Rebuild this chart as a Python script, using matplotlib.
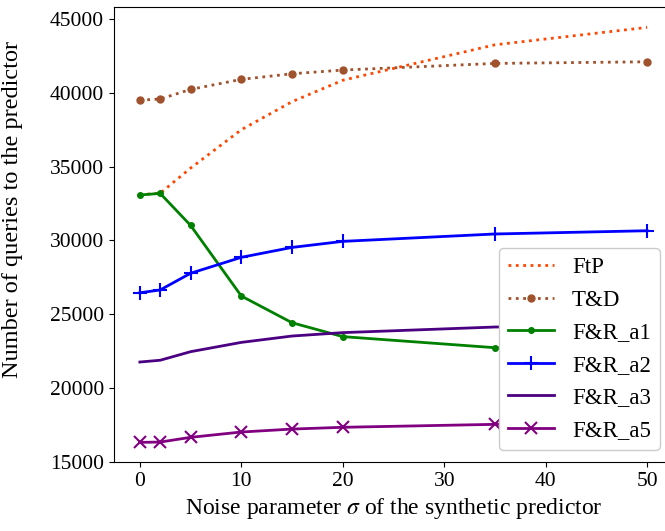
import numpy as np
import matplotlib
matplotlib.use('Agg')
import matplotlib.pyplot as plt

plt.rcParams['font.family'] = ['Liberation Serif', 'DejaVu Serif']
plt.rcParams['mathtext.fontset'] = 'stix'

# noise levels sigma
sigma = [0, 2, 5, 10, 15, 20, 35, 50]

# number of queries for each method
ftp = [33100, 33200, 34900, 37500, 39400, 40850, 43250, 44430]
td = [39500, 39580, 40230, 40910, 41290, 41540, 41990, 42100]
fr_a1 = [33080, 33190, 31020, 26240, 24430, 23490, 22740, 22300]
fr_a2 = [26460, 26650, 27780, 28860, 29530, 29940, 30440, 30660]
fr_a3 = [21770, 21890, 22470, 23100, 23530, 23760, 24140, 24300]
fr_a5 = [16330, 16350, 16670, 17030, 17230, 17350, 17550, 17650]

fig = plt.figure(figsize=(6.65, 5.31), dpi=100)
ax = fig.add_axes([113.5 / 665, 69 / 531, 560 / 665, 455 / 531])

ax.plot(sigma, ftp, ':', color='#ff4500', lw=2, label='FtP')
ax.plot(sigma, td, ':', color='#a0522d', lw=2, marker='o', ms=5, label='T&D')
ax.plot(sigma, fr_a1, '-', color='green', lw=2, marker='o', ms=4, label='F&R_a1')
ax.plot(sigma, fr_a2, '-', color='blue', lw=2, marker='+', ms=10, mew=1.5, label='F&R_a2')
ax.plot(sigma, fr_a3, '-', color='#4b0082', lw=2, label='F&R_a3')
ax.plot(sigma, fr_a5, '-', color='#800080', lw=2, marker='x', ms=8, mew=1.5, label='F&R_a5')

ax.set_xlim(-2.6, 52.6)
ax.set_ylim(15000, 45810)
ax.set_xticks([0, 10, 20, 30, 40, 50])
ax.set_yticks(np.arange(15000, 45001, 5000))
ax.tick_params(labelsize=15.5)

ax.set_xlabel(r'Noise parameter $\sigma$ of the synthetic predictor', fontsize=17)
ax.set_ylabel('Number of queries to the predictor', fontsize=17.5)
ax.yaxis.set_label_coords(-0.162, 0.555)

ax.legend(loc='lower right', bbox_to_anchor=(660 / 665, 81 / 531),
          bbox_transform=fig.transFigure, borderaxespad=0, fontsize=16.5,
          framealpha=1)

fig.savefig('out.png', dpi=100)
